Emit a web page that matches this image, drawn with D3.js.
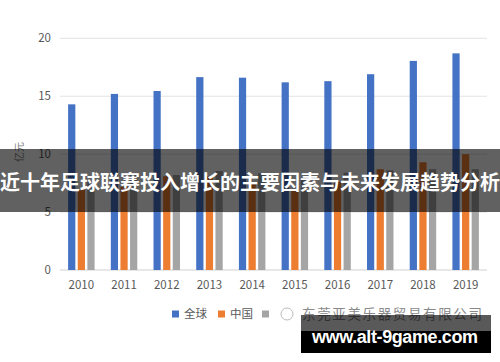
<!DOCTYPE html>
<html>
<head>
<meta charset="utf-8">
<script src="https://d3js.org/d3.v7.min.js"></script>
<style>
  body { margin: 0; background: #fff; }
  svg { font-family: "Noto Sans CJK SC", "Noto Sans", sans-serif; }
</style>
</head>
<body>
<svg id="chart" width="500" height="362"></svg>
<script>
  // chart values
  var years = ["2010","2011","2012","2013","2014","2015","2016","2017","2018","2019"];
  var seriesNames = ["全球", "中国", "其他"];
  var globalVals = [14.3, 15.2, 15.45, 16.65, 16.6, 16.2, 16.3, 16.9, 18.05, 18.7];
  var chinaVals  = [6.9, 7.2, 8.1, 8.1, 7.4, 7.0, 7.6, 8.7, 9.3, 10.0];
  var otherVals  = [7.6, 8.3, 8.2, 8.55, 8.35, 7.9, 8.4, 8.6, 8.7, 8.7];
  var yTicks = [0, 5, 10, 15, 20];
  var colors = ["#4472C4", "#ED7D31", "#A5A5A5"];

  var svg = d3.select("#chart");

  var x = d3.scaleBand().domain(years).range([60, 487]).paddingInner(0.38).paddingOuter(0.19);
  var xs = d3.scaleBand().domain(seriesNames).range([0, x.bandwidth()]).paddingInner(0.25);
  var y = d3.scaleLinear().domain([0, 20]).range([270, 38.3]);

  // gridlines
  svg.append("g")
    .selectAll("line").data(yTicks).enter()
    .append("line")
      .attr("x1", 60).attr("x2", 487)
      .attr("y1", function(d){ return y(d); })
      .attr("y2", function(d){ return y(d); })
      .attr("stroke", function(d){ return d == 0 ? "#d0d0d0" : "#e2e2e2"; })
      .attr("stroke-width", 1);

  // y tick labels
  svg.append("g")
    .selectAll("text").data(yTicks).enter()
    .append("text")
      .attr("x", 51)
      .attr("y", function(d){ return y(d); })
      .attr("dy", "0.35em")
      .attr("text-anchor", "end")
      .attr("fill", "#595959")
      .style("font-size", "11.5px")
      .text(function(d){ return d; });

  // y axis title
  svg.append("text")
    .attr("transform", "translate(23,152) rotate(-90)")
    .attr("text-anchor", "middle")
    .attr("fill", "#808080")
    .style("font-size", "10px")
    .text("亿元");

  // bars
  var table = years.map(function(yr, i){
    return { year: yr, vals: [globalVals[i], chinaVals[i], otherVals[i]] };
  });
  var groups = svg.append("g")
    .selectAll("g").data(table).enter()
    .append("g")
      .attr("transform", function(d){ return "translate(" + x(d.year) + ",0)"; });
  groups.selectAll("rect")
    .data(function(d){ return d.vals.map(function(v, j){ return { name: seriesNames[j], v: v, c: colors[j] }; }); })
    .enter().append("rect")
      .attr("x", function(d){ return xs(d.name); })
      .attr("width", xs.bandwidth())
      .attr("y", function(d){ return y(d.v); })
      .attr("height", function(d){ return y(0) - y(d.v); })
      .attr("fill", function(d){ return d.c; });

  // x tick labels
  svg.append("g")
    .selectAll("text").data(years).enter()
    .append("text")
      .attr("x", function(d){ return x(d) + x.bandwidth() / 2; })
      .attr("y", 285)
      .attr("dy", "0.35em")
      .attr("text-anchor", "middle")
      .attr("fill", "#595959")
      .style("font-size", "11.5px")
      .text(function(d){ return d; });

  // legend
  var legendX = [172, 218, 262];
  var legend = svg.append("g")
    .selectAll("g").data(seriesNames.slice(0, 2)).enter()
    .append("g")
      .attr("transform", function(d, i){ return "translate(" + legendX[i] + ",314)"; });
  legend.append("rect")
    .attr("x", 0).attr("y", -3.5).attr("width", 7).attr("height", 7)
    .attr("fill", function(d, i){ return colors[i]; });
  legend.append("text")
    .attr("x", 12).attr("dy", "0.35em")
    .attr("fill", "#595959")
    .style("font-size", "11.5px")
    .text(function(d){ return d; });
  svg.append("rect")
    .attr("x", legendX[2]).attr("y", 310.5).attr("width", 7).attr("height", 7)
    .attr("fill", colors[2]);

  // stamp that covers the third legend label
  svg.append("circle")
    .attr("cx", 287).attr("cy", 314).attr("r", 6)
    .attr("fill", "none").attr("stroke", "#bbb").attr("stroke-width", 1);
  svg.append("text")
    .attr("x", 302).attr("y", 314).attr("dy", "0.35em")
    .attr("fill", "#8a8a8a")
    .style("font-size", "13.5px")
    .attr("textLength", 180)
    .text("东莞亚美乐器贸易有限公司");

  // dark title banner across the middle
  svg.append("rect")
    .attr("x", 0).attr("y", 149).attr("width", 500).attr("height", 63)
    .attr("fill", "rgba(0,0,0,0.62)");
  svg.append("text")
    .attr("x", 250).attr("y", 183)
    .attr("dy", "0.35em")
    .attr("text-anchor", "middle")
    .attr("fill", "#fff")
    .style("font-size", "20px")
    .style("font-weight", "bold")
    .text("近十年足球联赛投入增长的主要因素与未来发展趋势分析");

  // site watermark box
  svg.append("rect")
    .attr("x", 301).attr("y", 315).attr("width", 190).attr("height", 16)
    .attr("fill", "rgba(0,0,0,0.65)");
  svg.append("rect")
    .attr("x", 301).attr("y", 331).attr("width", 190).attr("height", 22)
    .attr("fill", "#000");
  svg.append("text")
    .attr("x", 312).attr("y", 337)
    .attr("dy", "0.35em")
    .attr("fill", "#fff")
    .style("font-size", "18px")
    .style("font-weight", "bold")
    .style("font-family", "'Liberation Sans', Arial, sans-serif")
    .attr("textLength", 166)
    .text("www.alt-9game.com");
</script>
</body>
</html>
